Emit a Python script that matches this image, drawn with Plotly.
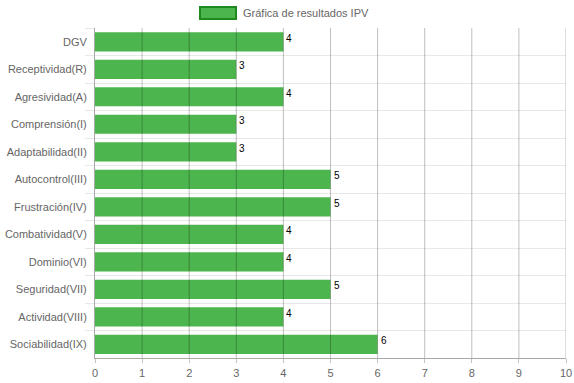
import plotly.graph_objects as go

categories = ["DGV", "Receptividad(R)", "Agresividad(A)", "Comprensión(I)",
              "Adaptabilidad(II)", "Autocontrol(III)", "Frustración(IV)",
              "Combatividad(V)", "Dominio(VI)", "Seguridad(VII)",
              "Actividad(VIII)", "Sociabilidad(IX)"]
values = [4, 3, 4, 3, 3, 5, 5, 4, 4, 5, 4, 6]
series_name = "Gráfica de resultados IPV"
x_ticks = list(range(0, 11))

BAR = "#4db54d"
FONT = "Liberation Sans, Arial, Helvetica, sans-serif"
FS = 11
T, B = 28, 25
PH = 383 - T - B

fig = go.Figure()
fig.add_trace(go.Bar(
    x=values, y=categories, orientation="h",
    marker=dict(color=BAR, line=dict(width=0)),
    name=series_name, showlegend=False, hoverinfo="x+y",
))

# vertical grid lines drawn above the bars, as in the reference
for t in x_ticks[1:]:
    fig.add_vline(x=t, line=dict(color="rgba(0,0,0,0.25)", width=1),
                  layer="above")

for c, v in zip(categories, values):
    fig.add_annotation(x=v, y=c, xref="x", yref="y", text=str(v),
                       showarrow=False, xanchor="left", yanchor="top",
                       xshift=1, yshift=11,
                       font=dict(family=FONT, size=10, color="#000"))

# legend (box + label)
fig.add_shape(type="rect", xref="paper", yref="paper",
              x0=(200 - 95) / 471, x1=(236 - 95) / 471,
              y0=1 + (T - 19) / PH, y1=1 + (T - 7) / PH,
              fillcolor=BAR, line=dict(color="#1e8a1e", width=2))
fig.add_annotation(xref="paper", yref="paper",
                   x=(241 - 95) / 471, y=1 + (T - 13) / PH,
                   text=series_name, showarrow=False,
                   xanchor="left", yanchor="middle",
                   font=dict(family=FONT, size=FS, color="#666"))

fig.update_layout(
    width=574, height=383,
    margin=dict(l=95, r=8, t=T, b=B),
    paper_bgcolor="white", plot_bgcolor="white",
    bargap=0.3,
    font=dict(family=FONT, size=FS, color="#666"),
    xaxis=dict(range=[0, 10], tickvals=x_ticks, showgrid=False,
               zeroline=False,
               showline=True, linecolor="#a8a8a8", linewidth=1,
               ticks="outside", ticklen=4, tickcolor="#c4c4c4",
               ticklabelstandoff=1,
               tickfont=dict(size=FS, color="#666"), fixedrange=True,
               automargin=False),
    yaxis=dict(categoryorder="array", categoryarray=categories,
               autorange="reversed", tickson="boundaries",
               showgrid=True, gridcolor="#e8e8e8", gridwidth=1,
               showline=True, linecolor="#a8a8a8", linewidth=1,
               ticks="outside", ticklen=9, tickcolor="#e8e8e8",
               ticklabelstandoff=5,
               tickfont=dict(size=FS, color="#666"), fixedrange=True,
               automargin=False),
)

fig.write_html("out.html", config={"displayModeBar": False},
               post_script="document.body.style.margin='0';document.body.style.overflow='hidden';")
